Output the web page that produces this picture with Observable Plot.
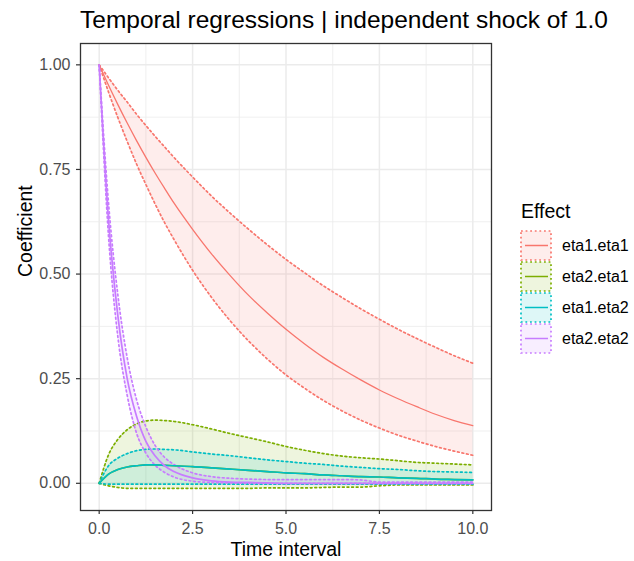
<!DOCTYPE html>
<html>
<head>
<meta charset="utf-8">
<script src="https://cdn.jsdelivr.net/npm/d3@7"></script>
<script src="https://cdn.jsdelivr.net/npm/@observablehq/plot@0.6"></script>
<style>
  body { margin: 0; background: white; }
  #wrap { position: relative; width: 634px; height: 561px; font-family: "Liberation Sans", Arial, sans-serif; background: white; }
  #title { position: absolute; left: 80px; top: 5px; font-size: 24.5px; line-height: 30px; color: #000; white-space: nowrap; }
  #chart { position: absolute; left: 0; top: 0; }
  #legend { position: absolute; left: 0; top: 0; }
</style>
</head>
<body>
<div id="wrap">
  <div id="chart"></div>
  <div id="title">Temporal regressions | independent shock of 1.0</div>
  <div id="legend"></div>
</div>
<script>
// ---- data ----
const time = [0,0.25,0.5,0.75,1,1.25,1.5,1.75,2,2.5,3,3.5,4,4.5,5,5.5,6,6.5,7,7.5,8,8.5,9,9.5,10];

const effects = ["eta1.eta1","eta2.eta1","eta1.eta2","eta2.eta2"];
const colors  = ["#F8766D","#7CAE00","#00BFC4","#C77CFF"];

const eta1eta1Mean  = [1,0.951,0.905,0.861,0.819,0.779,0.741,0.705,0.670,0.607,0.549,0.497,0.449,0.407,0.368,0.333,0.301,0.273,0.247,0.223,0.202,0.183,0.165,0.150,0.138];
const eta1eta1Upper = [1,0.969,0.939,0.911,0.882,0.855,0.829,0.804,0.779,0.732,0.687,0.646,0.607,0.570,0.535,0.503,0.472,0.444,0.417,0.392,0.368,0.346,0.325,0.305,0.287];
const eta1eta1Lower = [1,0.935,0.874,0.817,0.763,0.714,0.667,0.623,0.583,0.509,0.445,0.389,0.340,0.297,0.259,0.227,0.198,0.173,0.151,0.132,0.115,0.101,0.088,0.077,0.067];

const eta2eta1Mean  = [0,0.022,0.033,0.039,0.042,0.044,0.044,0.043,0.042,0.040,0.037,0.034,0.031,0.028,0.025,0.023,0.020,0.018,0.016,0.015,0.013,0.012,0.010,0.009,0.008];
const eta2eta1Upper = [0,0.068,0.105,0.128,0.142,0.149,0.151,0.150,0.148,0.140,0.130,0.119,0.109,0.099,0.088,0.079,0.071,0.065,0.061,0.058,0.054,0.050,0.048,0.046,0.044];
const eta2eta1Lower = [0,-0.006,-0.010,-0.012,-0.012,-0.012,-0.012,-0.012,-0.012,-0.012,-0.012,-0.012,-0.012,-0.011,-0.011,-0.011,-0.010,-0.009,-0.009,-0.006,-0.004,-0.004,-0.004,-0.004,-0.004];

const eta1eta2Mean  = [0,0.022,0.033,0.039,0.042,0.044,0.044,0.043,0.042,0.040,0.037,0.034,0.031,0.028,0.025,0.023,0.020,0.018,0.016,0.015,0.013,0.012,0.010,0.009,0.008];
const eta1eta2Upper = [0,0.042,0.060,0.071,0.078,0.081,0.082,0.081,0.080,0.075,0.070,0.066,0.061,0.056,0.052,0.048,0.045,0.041,0.038,0.035,0.033,0.030,0.028,0.027,0.026];
const eta1eta2Lower = [0,-0.002,-0.002,-0.002,-0.002,-0.002,-0.002,-0.002,-0.002,-0.002,-0.002,-0.002,-0.002,-0.002,-0.002,-0.002,-0.002,-0.002,-0.002,-0.002,-0.002,-0.002,-0.002,-0.002,-0.002];

const eta2eta2Mean  = [1,0.63,0.40,0.25,0.16,0.10,0.065,0.042,0.028,0.013,0.006,0.003,0.002,0.001,0,0,0,0,0,0,0,0,0,0,0];
const eta2eta2Upper = [1,0.67,0.45,0.30,0.20,0.135,0.090,0.062,0.045,0.025,0.016,0.012,0.010,0.009,0.009,0.009,0.009,0.009,0.008,0.003,0.003,0.003,0.003,0.003,0.003];
const eta2eta2Lower = [1,0.59,0.35,0.21,0.12,0.072,0.043,0.026,0.015,0.005,0.002,0.001,0,0,0,0,0,0,0,0,0,0,0,0,0];

const xTicks = [0,2.5,5,7.5,10];
const xTickLabels = ["0.0","2.5","5.0","7.5","10.0"];
const yTicks = [0,0.25,0.5,0.75,1];
const yTickLabels = ["0.00","0.25","0.50","0.75","1.00"];
const xMinor = [1.25,3.75,6.25,8.75];
const yMinor = [0.125,0.375,0.625,0.875];

// ---- build tables ----
const seriesArrays = [
  [eta1eta1Mean, eta1eta1Lower, eta1eta1Upper],
  [eta2eta1Mean, eta2eta1Lower, eta2eta1Upper],
  [eta1eta2Mean, eta1eta2Lower, eta1eta2Upper],
  [eta2eta2Mean, eta2eta2Lower, eta2eta2Upper]
];
const tables = seriesArrays.map(([m, lo, hi], k) =>
  time.map((t, i) => ({t, mean: m[i], lo: lo[i], hi: hi[i], effect: effects[k]}))
);

const dash = "1.8,2.8";
const marks = [
  Plot.gridX(xMinor, {stroke: "#EBEBEB", strokeOpacity: 1, strokeWidth: 0.8}),
  Plot.gridY(yMinor, {stroke: "#EBEBEB", strokeOpacity: 1, strokeWidth: 0.8}),
  Plot.gridX(xTicks, {stroke: "#EBEBEB", strokeOpacity: 1, strokeWidth: 1.5}),
  Plot.gridY(yTicks, {stroke: "#EBEBEB", strokeOpacity: 1, strokeWidth: 1.5})
];
tables.forEach((d, k) => {
  marks.push(Plot.areaY(d, {x: "t", y1: "lo", y2: "hi", fill: colors[k], fillOpacity: 0.13, curve: "monotone-x"}));
});
tables.forEach((d, k) => {
  marks.push(Plot.line(d, {x: "t", y: "lo", stroke: colors[k], strokeWidth: 1.7, strokeDasharray: dash, curve: "monotone-x"}));
  marks.push(Plot.line(d, {x: "t", y: "hi", stroke: colors[k], strokeWidth: 1.7, strokeDasharray: dash, curve: "monotone-x"}));
});
tables.forEach((d, k) => {
  marks.push(Plot.line(d, {x: "t", y: "mean", stroke: colors[k], strokeWidth: k === 0 ? 1.3 : 1.7, curve: "monotone-x"}));
});
marks.push(
  Plot.frame({stroke: "#333333", strokeWidth: 1.3}),
  Plot.axisX(xTicks, {anchor: "bottom", tickSize: 4, tickPadding: 8, fontSize: 16, stroke: "#333333", fill: "#4D4D4D", strokeWidth: 1.2,
    tickFormat: d => xTickLabels[xTicks.indexOf(d)], label: null}),
  Plot.axisY(yTicks, {anchor: "left", tickSize: 4, tickPadding: 6, fontSize: 16, stroke: "#333333", fill: "#4D4D4D", strokeWidth: 1.2,
    tickFormat: d => yTickLabels[yTicks.indexOf(d)], label: null}),
  Plot.text(["Time interval"], {frameAnchor: "bottom", dy: 39, fontSize: 19.5, fill: "#000", lineAnchor: "middle"}),
  Plot.text(["Coefficient"], {frameAnchor: "left", dx: -55, rotate: -90, fontSize: 19.5, fill: "#000", lineAnchor: "middle"})
);

const chart = Plot.plot({
  width: 634,
  height: 561,
  marginLeft: 80,
  marginRight: 143,
  marginTop: 43,
  marginBottom: 51,
  x: {domain: [-0.5, 10.5]},
  y: {domain: [-0.065, 1.051]},
  style: {fontFamily: "'Liberation Sans', Arial, sans-serif", background: "white", overflow: "visible"},
  marks
});
document.getElementById("chart").appendChild(chart);

// ---- legend ----
const lg = d3.create("svg").attr("width", 634).attr("height", 561)
  .style("font-family", "'Liberation Sans', Arial, sans-serif").style("overflow", "visible");
lg.append("text").attr("x", 521).attr("y", 218).attr("font-size", 19.5).attr("fill", "#000").text("Effect");
effects.forEach((name, i) => {
  const top = 230 + 31 * i;
  const g = lg.append("g").attr("transform", `translate(520,${top})`);
  g.append("rect").attr("x", 1).attr("y", 1).attr("width", 30).attr("height", 29)
    .attr("fill", colors[i]).attr("fill-opacity", 0.13)
    .attr("stroke", colors[i]).attr("stroke-width", 1.7).attr("stroke-dasharray", dash);
  g.append("line").attr("x1", 5).attr("x2", 28).attr("y1", 15.5).attr("y2", 15.5)
    .attr("stroke", colors[i]).attr("stroke-width", 1.5);
  lg.append("text").attr("x", 562).attr("y", top + 15.5).attr("dy", "0.35em")
    .attr("font-size", 16).attr("fill", "#000").text(name);
});
document.getElementById("legend").appendChild(lg.node());
</script>
</body>
</html>
